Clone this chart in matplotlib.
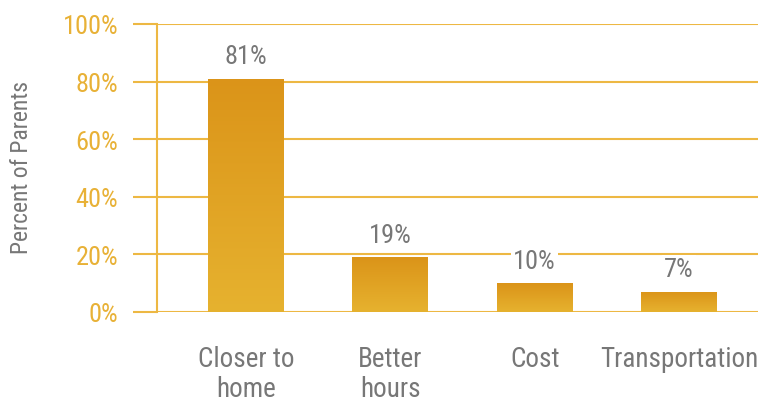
import matplotlib
matplotlib.use("Agg")
import matplotlib.pyplot as plt
import numpy as np
from matplotlib.colors import LinearSegmentedColormap
from matplotlib import font_manager as fm

categories = ["Closer to\nhome", "Better\nhours", "Cost", "Transportation"]
values = [81, 19, 10, 7]
yticks = [0, 20, 40, 60, 80, 100]
ytick_labels = ["0%", "20%", "40%", "60%", "80%", "100%"]

available = {f.name for f in fm.fontManager.ttflist}
FONT = [f for f in ["Roboto Condensed", "Barlow Semi Condensed", "IBM Plex Sans Condensed",
                    "PT Sans Narrow", "Roboto"] if f in available] + ["DejaVu Sans"]
plt.rcParams["font.family"] = FONT

gold = "#EDB843"
tick_gold = "#E8B136"
gray = "#777777"

fig = plt.figure(figsize=(7.58, 4.02), dpi=100)
ax = fig.add_axes([157/758, (402-313)/402, 1 - 157/758, (313-25)/402])

x = np.arange(len(categories))
bars = ax.bar(x, values, width=0.526, facecolor="none", edgecolor="none", zorder=3)

cmap = LinearSegmentedColormap.from_list("g", ["#E6B22F", "#DB9419"])
grad = np.linspace(0, 1, 256).reshape(-1, 1)
for b in bars:
    x0, y0 = b.get_x(), b.get_y()
    w, h = b.get_width(), b.get_height()
    im = ax.imshow(grad, extent=[x0, x0 + w, y0, y0 + h], origin="lower",
                   cmap=cmap, aspect="auto", zorder=3)
    im.set_clip_path(b)

for xi, v in zip(x, values):
    ax.text(xi, v + 3.6, f"{v}%", ha="center", va="bottom", fontsize=19,
            color=gray, zorder=4,
            bbox=dict(facecolor="white", edgecolor="none", pad=1.5))

ax.set_xlim(-0.616, 3.547)
ax.set_ylim(0, 100)
ax.set_yticks(yticks)
ax.set_yticklabels(ytick_labels)
ax.set_xticks(x)
ax.set_xticklabels(categories)
ax.yaxis.grid(True, color=gold, linewidth=1.5, zorder=0)
ax.set_axisbelow(True)

for s in ["top", "right", "bottom"]:
    ax.spines[s].set_visible(False)
ax.spines["left"].set_color(gold)
ax.spines["left"].set_linewidth(1.5)

ax.tick_params(axis="y", colors=gold, length=17, width=1.5, pad=11,
               labelsize=19, labelcolor=tick_gold)
ax.tick_params(axis="x", length=0, pad=24, labelsize=19.5, labelcolor=gray)
for lab in ax.get_xticklabels():
    lab.set_linespacing(1.15)

fig.text(22/758, (402-168)/402, "Percent of Parents", rotation=90,
         ha="center", va="center", fontsize=17, color=gray)

fig.savefig("out.png", dpi=100)
